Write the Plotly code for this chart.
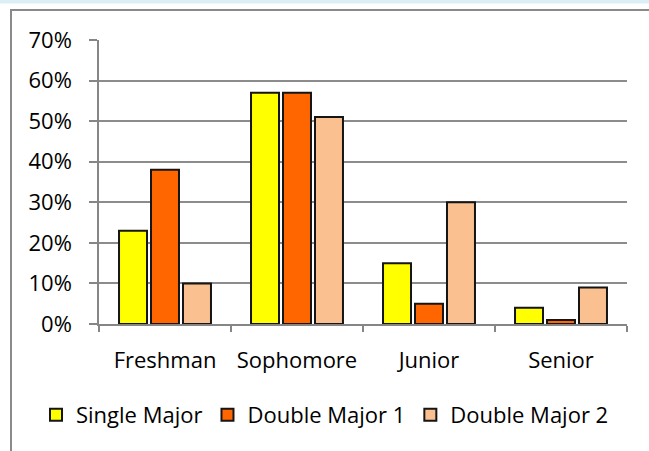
import plotly.graph_objects as go

categories = ["Freshman", "Sophomore", "Junior", "Senior"]
single_major = [0.23, 0.57, 0.15, 0.04]
double_major_1 = [0.38, 0.57, 0.05, 0.01]
double_major_2 = [0.10, 0.51, 0.30, 0.09]
series_names = ["Single Major", "Double Major 1", "Double Major 2"]
colors = ["#FFFF00", "#FF6600", "#FAC090"]
y_ticks = [0, 0.1, 0.2, 0.3, 0.4, 0.5, 0.6, 0.7]

W, H = 649, 451
L, R, T, B = 99, 22, 40, 127
pw, ph = W - L - R, H - T - B

def px(x):
    return (x - L) / pw

def py(y):
    return (H - B - y) / ph

FONT = "Open Sans, sans-serif"
FS = 22

fig = go.Figure()
for name, vals, c in zip(series_names, [single_major, double_major_1, double_major_2], colors):
    fig.add_trace(go.Bar(
        x=categories, y=vals, name=name,
        marker=dict(color=c, line=dict(color="#151515", width=2)),
    ))

fig.update_layout(
    width=W, height=H,
    margin=dict(l=L, r=R, t=T, b=B),
    paper_bgcolor="white", plot_bgcolor="white",
    barmode="group", bargap=0.273, bargroupgap=0.125,
    font=dict(family=FONT, size=FS, color="#000000"),
    showlegend=True,
    legend=dict(orientation="h", x=px(36), xanchor="left", y=py(415), yanchor="middle",
                font=dict(family=FONT, size=FS), itemwidth=30, tracegroupgap=0,
                bgcolor="rgba(0,0,0,0)"),
    xaxis=dict(showline=True, linecolor="#868686", linewidth=1.5,
               ticks="outside", tickson="boundaries", ticklen=6, tickcolor="#868686", tickwidth=1.5,
               showgrid=False, ticklabelstandoff=16,
               tickfont=dict(family=FONT, size=FS)),
    yaxis=dict(range=[0, 0.7], tickvals=y_ticks, tickformat=".0%",
               showline=True, linecolor="#868686", linewidth=1.5,
               ticks="outside", ticklen=8, tickcolor="#868686", tickwidth=1.5,
               showgrid=True, gridcolor="#8c8c8c", gridwidth=1.5, zeroline=False,
               ticklabelstandoff=13,
               tickfont=dict(family=FONT, size=FS)),
    shapes=[
        dict(type="rect", xref="paper", yref="paper", x0=px(-2), x1=px(W + 2), y0=py(3.5), y1=py(-2),
             fillcolor="#DDEFF6", line=dict(width=0), layer="above"),
        dict(type="line", xref="paper", yref="paper", x0=px(10), x1=px(W + 5), y0=py(10), y1=py(10),
             line=dict(color="#8a8a8a", width=2)),
        dict(type="line", xref="paper", yref="paper", x0=px(11), x1=px(11), y0=py(10), y1=py(H + 5),
             line=dict(color="#8a8a8a", width=2)),
    ],
)

fig.write_html(
    "out.html",
    config={"displayModeBar": False},
    post_script="document.body.style.margin='0';document.body.style.overflow='hidden';",
)
